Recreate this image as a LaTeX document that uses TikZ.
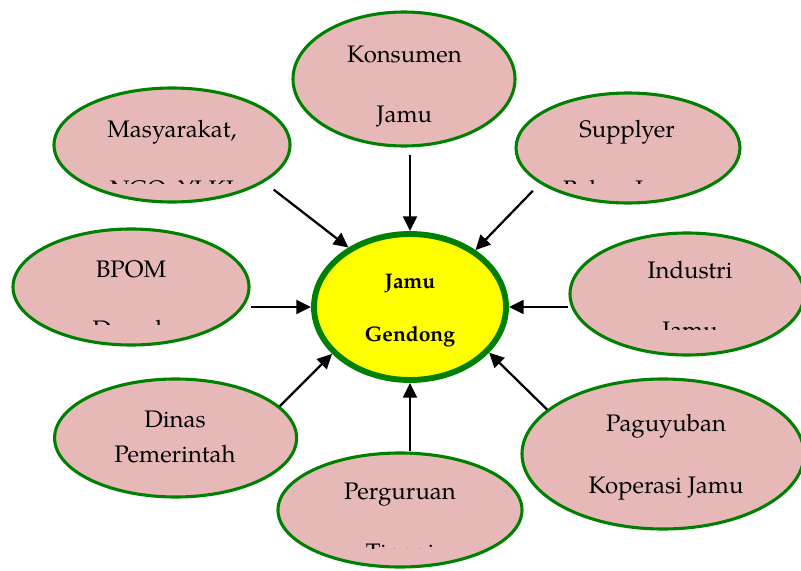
\documentclass[tikz,border=0pt]{standalone}
\usepackage{fontspec}
\setmainfont{TeX Gyre Pagella}
\usetikzlibrary{shapes.geometric,arrows.meta}

\definecolor{bubbleFill}{HTML}{E6B9B8}
\definecolor{bubbleEdge}{HTML}{008000}
\definecolor{coreFill}{HTML}{FFFF00}

\tikzset{
  bubble/.style={ellipse, draw=bubbleEdge, fill=bubbleFill, line width=2.2pt, inner sep=0pt},
  core/.style={ellipse, draw=bubbleEdge, fill=coreFill, line width=4.2pt, inner sep=0pt},
  txt/.style={anchor=base, align=center, inner sep=0pt, font=\fontsize{17}{42.7}\selectfont},
  arr/.style={line width=1.6pt, -{Triangle[length=10.5pt,width=10pt]}}
}

\begin{document}
\begin{tikzpicture}
    \useasboundingbox (0,0) rectangle (20.025,14.25);

    % Draw the centre
    \node[core, minimum width=4.8cm, minimum height=3.65cm] (jamu) at (10.25,6.575) {};
    \node[txt, font=\bfseries\fontsize{15}{38.4}\selectfont] (jamu-t) at (10.25,5.70) {Jamu\\Gendong};

    % Draw the surrounding bubbles
    \node[bubble, minimum width=5.55cm, minimum height=3.35cm] (kons) at (10.10,12.275) {};
    \node[bubble, minimum width=5.9cm, minimum height=2.85cm] (masy) at (4.30,10.625) {};
    \node[bubble, minimum width=5.6cm, minimum height=2.75cm] (supp) at (15.70,10.55) {};
    \node[bubble, minimum width=5.9cm, minimum height=2.9cm] (bpom) at (3.275,7.075) {};
    \node[bubble, minimum width=5.85cm, minimum height=3.05cm] (indu) at (17.175,6.9) {};
    \node[bubble, minimum width=6.05cm, minimum height=2.95cm] (dinas) at (4.39,3.3) {};
    \node[bubble, minimum width=7.05cm, minimum height=3.75cm] (pagu) at (16.575,2.9) {};
    \node[bubble, minimum width=6.1cm, minimum height=2.85cm] (perg) at (10.0,1.5) {};

    % Labels (placed by the baseline of their last line)
    \node[txt] (kons-t) at (10.11,11.175) {Konsumen\\Jamu};
    \node[txt, font=\fontsize{17}{24.2}\selectfont] (dinas-t) at (4.375,2.70) {Dinas\\Pemerintah};
    \node[txt, font=\fontsize{17}{43.4}\selectfont] (pagu-t) at (16.65,1.925) {Paguyuban\\Koperasi Jamu};

    % Labels running out of their box
    \begin{scope}
        \clip (0,9.65) rectangle (9,14.25);
        \node[txt] (masy-t) at (4.3,9.3) {Masyarakat,\\NGO, YLKI};
    \end{scope}
    \begin{scope}
        \clip (11,9.66) rectangle (20.025,14.25);
        \node[txt] (supp-t) at (15.675,9.3) {Supplyer\\Bahan Jamu};
    \end{scope}
    \begin{scope}
        \clip (0,6.125) rectangle (7,9);
        \node[txt] (bpom-t) at (3.275,5.8) {BPOM\\Daerah};
    \end{scope}
    \begin{scope}
        \clip (14,6.0) rectangle (20.025,9);
        \node[txt] (indu-t) at (17.25,5.775) {Industri\\Jamu};
    \end{scope}
    \begin{scope}
        \clip (7,0.55) rectangle (13,3);
        \node[txt] (perg-t) at (10.0,0.25) {Perguruan\\Tinggi};
    \end{scope}

    % Draw arrows into the centre
    \draw[arr, shorten <=0.18cm] (kons.south -| jamu) -- (jamu.north);
    \draw[arr, shorten <=0.3cm] (masy.-22) -- (jamu.136);
    \draw[arr, shorten <=0.25cm] (supp.202) -- (jamu.41);
    \draw[arr] (bpom.east |- jamu.west) -- (jamu.west);
    \draw[arr] (indu.west |- jamu.east) -- (jamu.east);
    \draw[arr] (dinas.17) -- (jamu.211);
    \draw[arr] (pagu.159) -- (jamu.330);
    \draw[arr] (perg.north -| jamu) -- (jamu.south);

\end{tikzpicture}
\end{document}
